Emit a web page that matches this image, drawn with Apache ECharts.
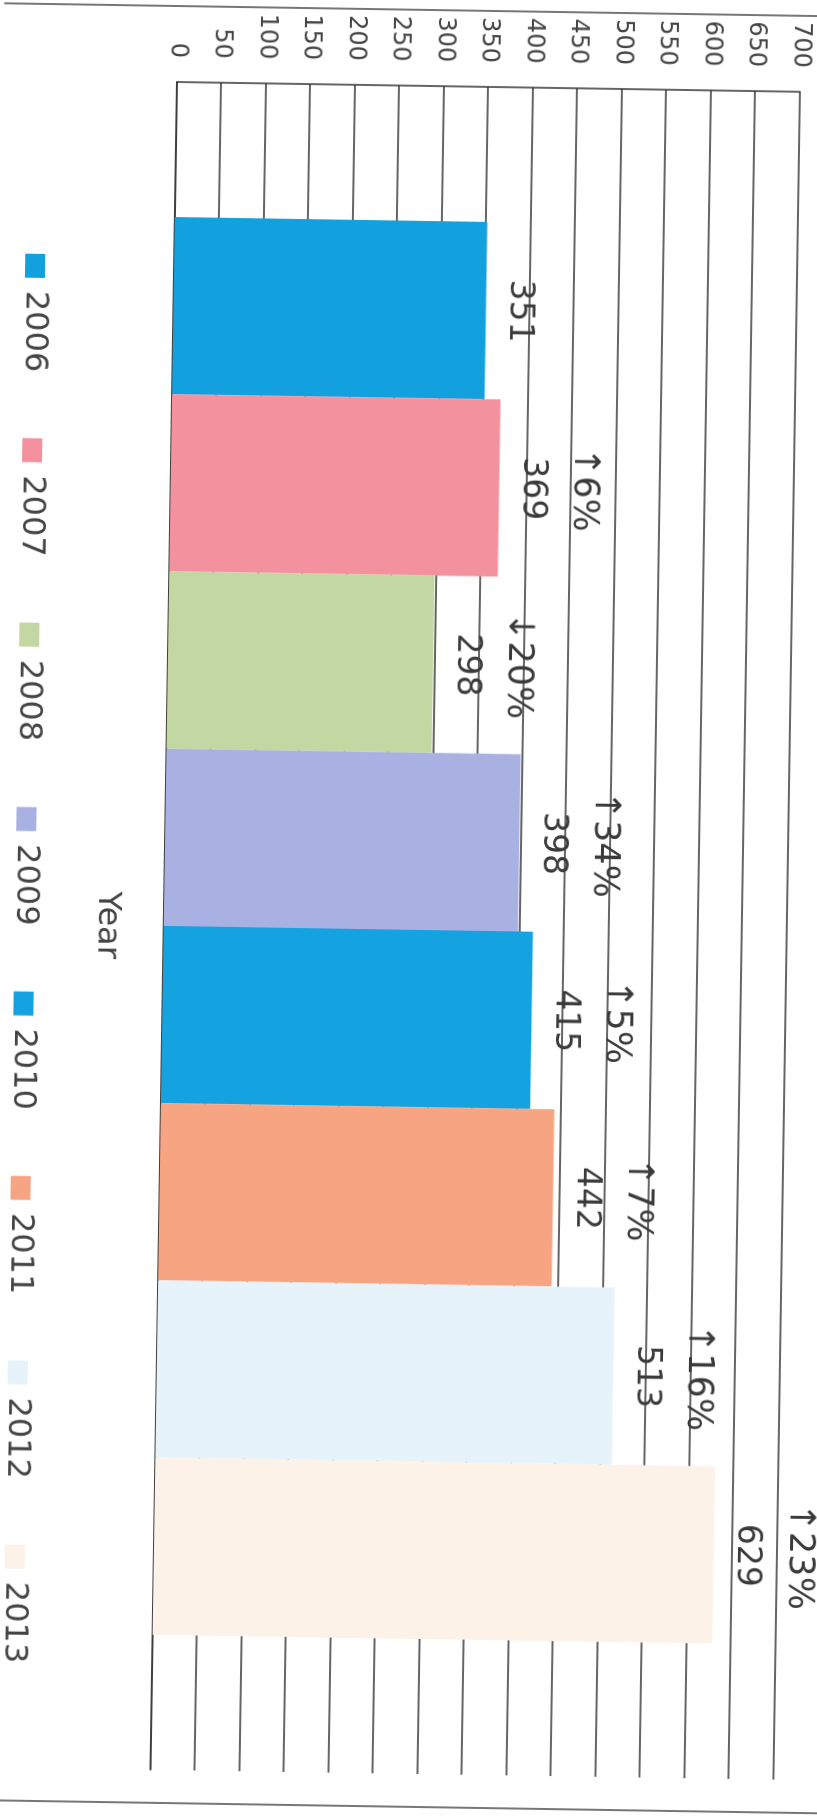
<!DOCTYPE html>
<html>
<head>
<meta charset="utf-8">
<script src="https://cdn.jsdelivr.net/npm/echarts@6/dist/echarts.min.js"></script>
<style>
  html, body { margin: 0; padding: 0; background: #ffffff; overflow: hidden; }
  body { width: 817px; height: 1818px; position: relative; }
  #chart {
    position: absolute; left: 0; top: 0;
    width: 1818px; height: 860px;
    transform-origin: 0 0;
    transform: translate(864.2px, 10.8px) rotate(90.9deg);
  }
</style>
</head>
<body>
<div id="chart"></div>
<script>
// ---- data ----
const years = ['2006', '2007', '2008', '2009', '2010', '2011', '2012', '2013'];
const values = [351, 369, 298, 398, 415, 442, 513, 629];
const changes = ['', '↑6%', '↓20%', '↑34%', '↑5%', '↑7%', '↑16%', '↑23%'];
const colors = ['#12a0de', '#f3919f', '#c3d7a2', '#a9b1e3', '#15a2e0', '#f6a481', '#e6f3fa', '#fcf2e8'];
const axisTitle = 'Year';
const valueTicks = { min: 0, max: 700, interval: 50 };

const FONT = 'DejaVu Sans';
const chart = echarts.init(document.getElementById('chart'), null, { renderer: 'canvas', width: 1818, height: 860 });

const series = years.map((y, i) => ({
  name: y,
  type: 'bar',
  data: [values[i]],
  barGap: '0%',
  barCategoryGap: '16%',
  itemStyle: { color: colors[i] },
  label: {
    show: true,
    position: 'top',
    distance: 15,
    fontFamily: FONT,
    formatter: () => changes[i] ? `{p|${changes[i]}}\n{v|${values[i]}}` : `{v|${values[i]}}`,
    rich: {
      p: { fontFamily: FONT, fontSize: 35, lineHeight: 68, color: '#3a3a3a' },
      v: { fontFamily: FONT, fontSize: 33, lineHeight: 36, color: '#3a3a3a' }
    }
  }
}));

chart.setOption({
  animation: false,
  backgroundColor: '#ffffff',
  textStyle: { fontFamily: FONT },
  grid: { left: 82, right: 48, top: 63, bottom: 174, containLabel: false },
  legend: {
    data: years,
    left: 251,
    top: 802,
    orient: 'horizontal',
    itemWidth: 24,
    itemHeight: 20,
    itemGap: 66,
    icon: 'rect',
    textStyle: { fontFamily: FONT, fontSize: 32, color: '#444', lineHeight: 36, padding: [0, 0, 0, 8] }
  },
  xAxis: {
    type: 'category',
    data: [''],
    name: axisTitle,
    nameLocation: 'middle',
    nameGap: 41,
    nameTextStyle: { fontFamily: FONT, fontSize: 32, color: '#444' },
    axisLine: { show: true, lineStyle: { color: '#333', width: 1.5 } },
    axisTick: { show: false },
    axisLabel: { show: false }
  },
  yAxis: {
    type: 'value',
    min: valueTicks.min,
    max: valueTicks.max,
    interval: valueTicks.interval,
    axisLine: { show: true, lineStyle: { color: '#333', width: 1.5 } },
    axisTick: { show: false },
    axisLabel: { fontFamily: FONT, fontSize: 24, color: '#444', margin: 24 },
    splitLine: { show: true, lineStyle: { color: '#333', width: 1.5 } }
  },
  graphic: [
    { type: 'line', shape: { x1: 6, y1: 0, x2: 6, y2: 860 }, style: { stroke: '#777', lineWidth: 2 }, silent: true },
    { type: 'line', shape: { x1: 1803, y1: 0, x2: 1803, y2: 860 }, style: { stroke: '#777', lineWidth: 2 }, silent: true }
  ],
  series: series
});
</script>
</body>
</html>
